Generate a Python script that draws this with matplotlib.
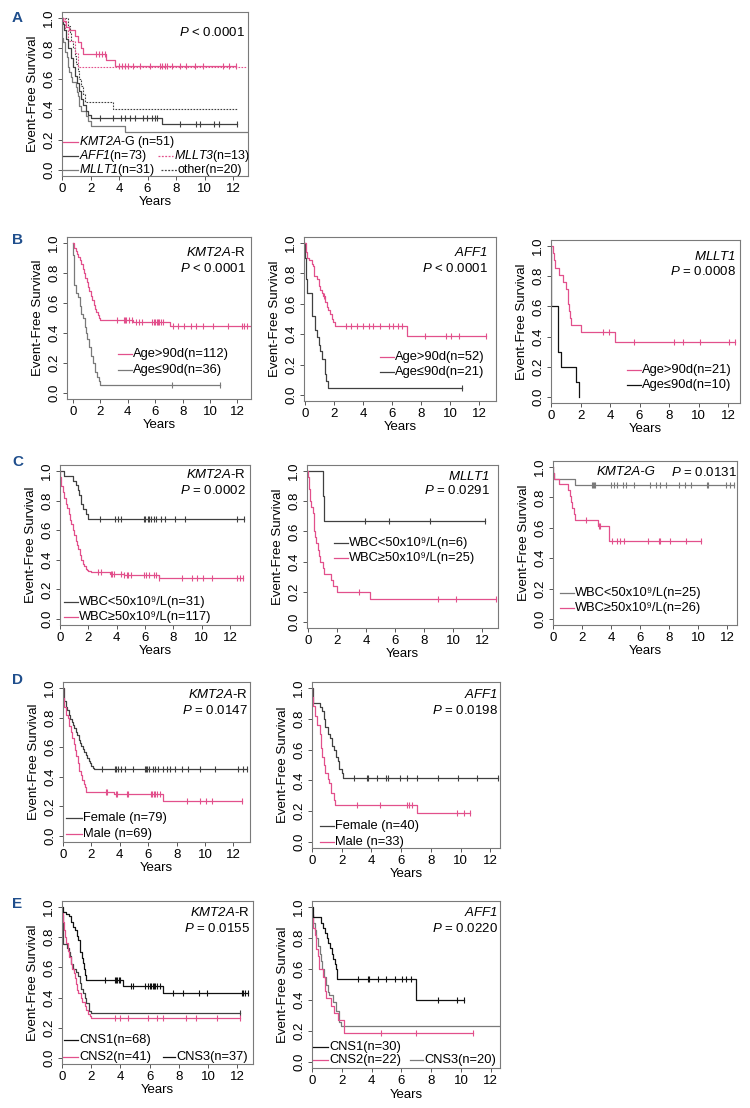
import numpy as np
import matplotlib
matplotlib.use("Agg")
import matplotlib.pyplot as plt
from matplotlib.lines import Line2D

plt.rcParams['font.family'] = ['Liberation Sans', 'DejaVu Sans']
plt.rcParams['mathtext.fontset'] = 'custom'
plt.rcParams['mathtext.rm'] = 'Liberation Sans:italic'
plt.rcParams['mathtext.it'] = 'Liberation Sans:italic'
plt.rcParams['mathtext.bf'] = 'Liberation Sans:bold'

# ---------------- data ----------------
# Panel A
a_kmt2ag_t = [0.1, 0.3, 0.5, 0.9, 1.1, 1.3, 1.5, 3.1, 3.7]
a_kmt2ag_s = [0.98, 0.94, 0.92, 0.88, 0.84, 0.80, 0.76, 0.725, 0.685]
a_kmt2ag_end = 12.2
a_kmt2ag_cens = [2.4, 2.6, 2.8, 3.0, 4.0, 4.2, 4.4, 4.6, 5.0, 5.5, 6.2, 6.9, 7.0, 7.2, 7.4, 7.7, 8.3, 8.7, 9.3, 9.9, 11.3, 11.7, 12.2]
a_aff1_t = [0.05, 0.15, 0.3, 0.45, 0.6, 0.75, 0.9, 1.05, 1.2, 1.35, 1.5, 1.65, 1.8, 2.0, 7.0]
a_aff1_s = [0.96, 0.92, 0.86, 0.80, 0.74, 0.68, 0.62, 0.57, 0.52, 0.47, 0.43, 0.39, 0.36, 0.34, 0.30]
a_aff1_end = 12.3
a_aff1_cens = [2.65, 3.6, 4.15, 4.4, 4.75, 5.1, 5.7, 5.95, 6.3, 6.5, 6.7, 8.3, 9.4, 9.65, 10.7, 11.05, 12.3]
a_mllt1_t = [0.02, 0.1, 0.2, 0.22, 0.35, 0.4, 0.45, 0.47, 0.6, 0.71, 0.98, 1.06, 1.1, 1.18, 1.22, 1.3, 1.65, 1.85, 2.0, 4.4]
a_mllt1_s = [0.871, 0.839, 0.806, 0.774, 0.742, 0.710, 0.677, 0.645, 0.613, 0.581, 0.548, 0.516, 0.484, 0.452, 0.419, 0.387, 0.355, 0.323, 0.290, 0.25]
a_mllt1_end = 13.0
a_mllt3_t = [0.2, 0.45, 0.9, 1.15]
a_mllt3_s = [0.923, 0.846, 0.769, 0.68]
a_mllt3_end = 13.0
a_other_t = [0.45, 0.55, 0.65, 0.75, 0.9, 1.0, 1.1, 1.2, 1.3, 1.45, 1.6, 3.6]
a_other_s = [0.95, 0.90, 0.85, 0.80, 0.75, 0.70, 0.65, 0.60, 0.55, 0.50, 0.45, 0.40]
a_other_end = 12.3

# Panel B1 (KMT2A-R, age)
b1_old_t = [0.1, 0.2, 0.3, 0.4, 0.5, 0.6, 0.7, 0.8, 0.9, 1.0, 1.1, 1.2, 1.3, 1.4, 1.5, 1.6, 1.7, 1.8, 1.9, 2.0, 4.4, 7.1]
b1_old_s = [0.97, 0.95, 0.93, 0.91, 0.89, 0.86, 0.83, 0.80, 0.77, 0.74, 0.71, 0.68, 0.65, 0.62, 0.59, 0.56, 0.54, 0.52, 0.50, 0.49, 0.475, 0.45]
b1_old_end = 12.9
b1_old_cens = [3.2, 3.7, 3.8, 3.9, 4.1, 4.3, 4.6, 4.8, 5.0, 5.8, 5.9, 6.0, 6.1, 6.2, 6.3, 6.4, 6.6, 7.3, 7.7, 8.1, 8.6, 9.0, 9.5, 10.2, 11.3, 12.3, 12.5, 12.7]
b1_young_t = [0.03, 0.05, 0.08, 0.2, 0.35, 0.5, 0.6, 0.7, 0.85, 0.95, 1.05, 1.15, 1.3, 1.45, 1.6, 1.75, 1.9, 2.0]
b1_young_s = [0.92, 0.83, 0.72, 0.67, 0.64, 0.58, 0.53, 0.50, 0.44, 0.40, 0.36, 0.31, 0.25, 0.20, 0.14, 0.11, 0.083, 0.056]
b1_young_end = 10.7
b1_young_cens = [7.2, 10.7]

# Panel B2 (AFF1, age)
b2_old_t = [0.05, 0.1, 0.15, 0.3, 0.45, 0.57, 0.65, 0.8, 0.95, 1.03, 1.15, 1.26, 1.4, 1.5, 1.6, 1.72, 1.85, 1.95, 2.1, 7.0]
b2_old_s = [0.98, 0.94, 0.90, 0.885, 0.865, 0.846, 0.78, 0.76, 0.72, 0.69, 0.67, 0.65, 0.61, 0.58, 0.56, 0.53, 0.50, 0.48, 0.455, 0.39]
b2_old_end = 12.5
b2_old_cens = [1.3, 2.8, 3.2, 3.6, 4.0, 4.4, 4.7, 5.2, 5.8, 6.1, 6.4, 6.7, 8.3, 9.7, 10.1, 10.6, 12.5]
b2_young_t = [0.02, 0.1, 0.15, 0.5, 0.7, 0.85, 0.95, 1.05, 1.15, 1.38, 1.45, 1.6]
b2_young_s = [0.90, 0.76, 0.67, 0.52, 0.43, 0.38, 0.33, 0.29, 0.24, 0.14, 0.095, 0.048]
b2_young_end = 10.8
b2_young_cens = [10.8]

# Panel B3 (MLLT1, age)
b3_old_t = [0.15, 0.2, 0.28, 0.55, 0.78, 1.05, 1.12, 1.17, 1.23, 1.28, 1.35, 2.0, 4.35]
b3_old_s = [0.952, 0.905, 0.857, 0.81, 0.762, 0.714, 0.667, 0.619, 0.571, 0.524, 0.476, 0.429, 0.367]
b3_old_end = 12.45
b3_old_cens = [3.55, 3.95, 5.6, 8.35, 8.95, 10.1, 12.05, 12.45]
b3_young_t = [0.0, 0.005, 0.01, 0.015, 0.45, 0.47, 0.49, 0.68, 1.7, 1.88]
b3_young_s = [0.9, 0.8, 0.7, 0.6, 0.5, 0.4, 0.3, 0.2, 0.1, 0.0]
b3_young_end = 1.88

# Panel C1 (KMT2A-R, WBC)
c1_low_t = [0.25, 0.95, 1.15, 1.3, 1.35, 1.45, 1.5, 1.65, 1.8, 1.95]
c1_low_s = [0.968, 0.935, 0.903, 0.871, 0.839, 0.806, 0.774, 0.742, 0.71, 0.677]
c1_low_end = 13.0
c1_low_cens = [2.8, 3.9, 4.1, 4.3, 5.9, 6.0, 6.2, 6.3, 6.4, 6.6, 6.8, 7.1, 7.4, 8.1, 8.8, 12.5, 13.0]
c1_high_t = [0.03, 0.1, 0.2, 0.3, 0.4, 0.5, 0.6, 0.7, 0.8, 0.9, 1.0, 1.1, 1.2, 1.3, 1.4, 1.5, 1.6, 1.7, 1.8, 1.9, 2.0, 2.2, 3.5, 4.5, 7.0]
c1_high_s = [0.96, 0.90, 0.86, 0.82, 0.78, 0.75, 0.71, 0.67, 0.64, 0.60, 0.57, 0.53, 0.50, 0.47, 0.43, 0.40, 0.37, 0.355, 0.34, 0.33, 0.325, 0.315, 0.305, 0.295, 0.275]
c1_high_end = 12.9
c1_high_cens = [2.7, 2.9, 3.6, 3.7, 3.8, 4.3, 4.5, 4.7, 4.8, 5.0, 5.9, 6.1, 6.3, 6.6, 6.8, 7.0, 8.6, 9.3, 9.7, 10.1, 10.7, 12.5, 12.7, 12.9]

# Panel C2 (MLLT1, WBC)
c2_low_t = [1.0, 1.1]
c2_low_s = [0.833, 0.667]
c2_low_end = 12.2
c2_low_cens = [3.9, 5.6, 8.4, 12.2]
c2_high_t = [0.03, 0.06, 0.08, 0.12, 0.15, 0.2, 0.34, 0.38, 0.41, 0.43, 0.46, 0.57, 0.69, 0.75, 0.85, 1.03, 1.1, 1.6, 1.72, 2.0, 4.25]
c2_high_s = [0.96, 0.92, 0.88, 0.84, 0.80, 0.76, 0.72, 0.68, 0.64, 0.60, 0.56, 0.52, 0.48, 0.44, 0.40, 0.36, 0.32, 0.28, 0.24, 0.20, 0.15]
c2_high_end = 13.0
c2_high_cens = [3.5, 9.0, 10.2, 13.0]

# Panel C3 (KMT2A-G, WBC)
c3_low_t = [0.02, 0.05, 1.5]
c3_low_s = [0.96, 0.92, 0.88]
c3_low_end = 12.5
c3_low_cens = [2.7, 2.75, 2.8, 2.9, 4.0, 4.2, 4.4, 4.8, 5.05, 5.6, 6.7, 7.1, 7.4, 7.8, 8.7, 9.1, 9.5, 10.6, 10.7, 11.95, 12.2, 12.5]
c3_high_t = [0.02, 0.05, 0.4, 1.03, 1.15, 1.22, 1.33, 1.43, 1.5, 3.1, 3.86]
c3_high_s = [0.962, 0.923, 0.885, 0.846, 0.808, 0.769, 0.731, 0.692, 0.654, 0.613, 0.51]
c3_high_end = 10.2
c3_high_cens = [2.25, 3.2, 3.25, 4.1, 4.4, 4.6, 4.9, 6.55, 7.3, 7.4, 8.05, 9.15, 10.2]

# Panel D1 (KMT2A-R, sex)
d1_f_t = [0.05, 0.1, 0.2, 0.3, 0.4, 0.5, 0.6, 0.7, 0.8, 0.9, 1.0, 1.1, 1.2, 1.3, 1.4, 1.5, 1.6, 1.7, 1.8, 1.9, 2.0, 2.1, 2.2]
d1_f_s = [0.96, 0.91, 0.87, 0.85, 0.82, 0.79, 0.77, 0.75, 0.73, 0.70, 0.68, 0.65, 0.63, 0.61, 0.59, 0.57, 0.55, 0.53, 0.51, 0.49, 0.47, 0.46, 0.455]
d1_f_end = 12.95
d1_f_cens = [2.75, 3.65, 3.75, 3.85, 4.05, 4.35, 4.95, 5.75, 5.85, 5.95, 6.05, 6.35, 6.45, 6.7, 7.05, 7.3, 7.5, 7.9, 8.35, 8.8, 9.65, 10.7, 12.35, 12.7, 12.95]
d1_m_t = [0.03, 0.1, 0.2, 0.35, 0.45, 0.55, 0.65, 0.75, 0.85, 0.95, 1.05, 1.15, 1.25, 1.35, 1.45, 1.55, 1.65, 3.6, 7.06]
d1_m_s = [0.93, 0.87, 0.82, 0.80, 0.74, 0.70, 0.66, 0.62, 0.58, 0.54, 0.49, 0.44, 0.41, 0.38, 0.35, 0.33, 0.30, 0.285, 0.235]
d1_m_end = 12.6
d1_m_cens = [3.06, 3.1, 3.7, 3.8, 4.5, 4.6, 6.2, 6.3, 6.4, 6.5, 6.6, 6.8, 8.7, 9.65, 10.1, 10.5, 12.6]

# Panel D2 (AFF1, sex)
d2_f_t = [0.05, 0.56, 0.7, 0.78, 0.9, 1.05, 1.2, 1.35, 1.45, 1.6, 1.73, 1.85, 2.0, 2.1]
d2_f_s = [0.90, 0.875, 0.85, 0.80, 0.75, 0.70, 0.675, 0.625, 0.60, 0.55, 0.525, 0.475, 0.45, 0.417]
d2_f_end = 12.55
d2_f_cens = [2.85, 3.7, 3.8, 4.4, 4.95, 5.1, 5.95, 6.4, 7.05, 8.5, 9.85, 11.1, 12.55]
d2_m_t = [0.02, 0.1, 0.2, 0.35, 0.52, 0.6, 0.7, 0.8, 0.9, 1.05, 1.17, 1.3, 1.45, 1.52, 7.06]
d2_m_s = [0.94, 0.88, 0.82, 0.76, 0.70, 0.61, 0.55, 0.50, 0.445, 0.41, 0.38, 0.315, 0.27, 0.24, 0.19]
d2_m_end = 10.65
d2_m_cens = [3.03, 4.55, 6.4, 6.5, 6.7, 9.75, 10.2, 10.65]

# Panel E1 (KMT2A-R, CNS)
e1_cns1_t = [0.1, 0.25, 0.45, 0.6, 0.75, 0.9, 1.0, 1.1, 1.2, 1.26, 1.35, 1.42, 1.49, 1.58, 1.67, 4.2, 6.92]
e1_cns1_s = [0.97, 0.955, 0.94, 0.90, 0.87, 0.85, 0.81, 0.78, 0.74, 0.70, 0.66, 0.63, 0.59, 0.55, 0.515, 0.478, 0.43]
e1_cns1_end = 12.75
e1_cns1_cens = [2.97, 3.6, 3.7, 3.8, 3.9, 4.0, 4.75, 4.85, 5.66, 5.9, 6.0, 6.1, 6.2, 6.3, 6.4, 6.5, 6.7, 7.6, 8.3, 9.4, 9.9, 12.3, 12.4, 12.5, 12.75]
e1_cns2_t = [0.02, 0.05, 0.08, 0.12, 0.2, 0.3, 0.4, 0.46, 0.6, 0.7, 0.8, 0.87, 0.95, 1.05, 1.1, 1.3, 1.4, 1.55, 1.65, 1.78, 1.9, 2.0]
e1_cns2_s = [0.976, 0.95, 0.90, 0.85, 0.80, 0.76, 0.71, 0.667, 0.62, 0.59, 0.56, 0.53, 0.49, 0.45, 0.43, 0.40, 0.37, 0.344, 0.32, 0.29, 0.275, 0.262]
e1_cns2_end = 12.2
e1_cns2_cens = [3.6, 3.95, 4.5, 5.9, 6.5, 6.9, 8.5, 9.2, 10.6, 12.2]
e1_cns3_t = [0.02, 0.04, 0.06, 0.35, 0.45, 0.52, 0.6, 0.75, 0.98, 1.1, 1.2, 1.3, 1.44, 1.55, 1.67, 1.83, 1.96]
e1_cns3_s = [0.946, 0.865, 0.757, 0.73, 0.70, 0.676, 0.62, 0.59, 0.567, 0.54, 0.50, 0.46, 0.433, 0.40, 0.367, 0.31, 0.297]
e1_cns3_end = 12.2
e1_cns3_cens = [12.2]

# Panel E2 (AFF1, CNS)
e2_cns1_t = [0.1, 0.6, 0.76, 0.9, 0.98, 1.1, 1.2, 1.35, 1.44, 1.55, 1.62, 1.7, 6.96]
e2_cns1_s = [0.933, 0.90, 0.867, 0.833, 0.80, 0.767, 0.733, 0.70, 0.667, 0.633, 0.60, 0.533, 0.40]
e2_cns1_end = 10.2
e2_cns1_cens = [3.1, 3.73, 3.84, 4.4, 4.96, 5.6, 6.07, 6.3, 6.63, 8.48, 9.7, 10.2]
e2_cns2_t = [0.02, 0.05, 0.1, 0.2, 0.3, 0.4, 0.5, 0.71, 0.85, 0.94, 1.27, 1.5, 1.72, 2.17]
e2_cns2_s = [0.955, 0.909, 0.864, 0.818, 0.727, 0.682, 0.60, 0.55, 0.455, 0.41, 0.364, 0.318, 0.273, 0.187]
e2_cns2_end = 10.8
e2_cns2_cens = [4.6, 6.96, 10.8]
e2_cns3_t = [0.02, 0.1, 0.2, 0.3, 0.4, 0.55, 0.62, 0.7, 0.83, 0.95, 1.05, 1.16, 1.38, 1.6, 1.83, 1.94]
e2_cns3_s = [0.95, 0.90, 0.85, 0.80, 0.75, 0.70, 0.65, 0.60, 0.55, 0.50, 0.45, 0.43, 0.39, 0.33, 0.26, 0.23]
e2_cns3_end = 13.0

x_ticks = [0, 2, 4, 6, 8, 10, 12]
y_ticks = [0.0, 0.2, 0.4, 0.6, 0.8, 1.0]

# ---------------- style ----------------
PINK = '#E2508C'
DARK = '#404040'
GRAY = '#7A7A7A'
BLACK = '#111111'
BLUE = '#1F4E8C'
FS = 9.5
LFS = 9.3

W, H = 750, 1108
fig = plt.figure(figsize=(W / 100, H / 100), dpi=100)


def it(s):
    # italic via mathtext (rm font is set to italic Liberation Sans)
    return r'$\mathrm{' + s + '}$'


def make_axes(left, right, y1, y0, x0, ppy, pad=0.04):
    span = y0 - y1
    top = y1 - pad * span
    bottom = y0 + pad * span
    ax = fig.add_axes([left / W, 1 - bottom / H, (right - left) / W, (bottom - top) / H])
    ax.set_xlim((left - x0) / ppy, (right - x0) / ppy)
    ax.set_ylim(-pad, 1 + pad)
    ax.set_xticks(x_ticks)
    ax.set_yticks(y_ticks)
    ax.set_yticklabels(['%.1f' % v for v in y_ticks])
    ax.tick_params(direction='out', length=3, width=0.7, color='#555555', labelsize=FS, pad=2)
    for lab in ax.get_yticklabels():
        lab.set_rotation(90)
        lab.set_va('center')
    for sp in ax.spines.values():
        sp.set_color('#7A7A7A')
        sp.set_linewidth(0.8)
    ax.set_ylabel('Event-Free Survival', fontsize=FS, labelpad=3)
    ax.set_xlabel('Years', fontsize=FS, labelpad=1)
    return ax


def km(ax, t, s, end, color, cens=None, ls='-', lw=0.9):
    t = np.asarray(t, float)
    s = np.asarray(s, float)
    x = np.r_[0.0, t, end]
    y = np.r_[1.0, s, s[-1]]
    ax.step(x, y, where='post', color=color, ls=ls, lw=lw, clip_on=True)
    if cens:
        idx = np.searchsorted(t, cens, side='right')
        cy = np.r_[1.0, s][idx]
        ax.plot(cens, cy, ls='none', marker='|', ms=5, mew=0.8, color=color)


def leg(xp, yp, label, color, ls='-', seg=14, fs=LFS):
    fy = 1 - yp / H
    fig.add_artist(Line2D([xp / W, (xp + seg) / W], [fy, fy], color=color, ls=ls, lw=0.9))
    fig.text((xp + seg + 1) / W, fy, label, va='center', ha='left', fontsize=fs)


def note(xp, yp, label, ha='right', style='normal'):
    fig.text(xp / W, 1 - yp / H, label, va='center', ha=ha, fontsize=FS, fontstyle=style)


def letter(xp, yp, label):
    fig.text(xp / W, 1 - yp / H, label, va='center', ha='left', fontsize=11,
             fontweight='bold', color=BLUE)


PLT = it('P') + ' < 0.0001'
SUP9 = '\u2079'

# ---------------- Panel A ----------------
ax = make_axes(62, 248, 18, 170, 62, 14.25)
km(ax, a_other_t, a_other_s, a_other_end, DARK, ls=(0, (1.5, 1.2)), lw=0.8)
km(ax, a_mllt3_t, a_mllt3_s, a_mllt3_end, PINK, ls=(0, (1.5, 1.2)), lw=0.8)
km(ax, a_mllt1_t, a_mllt1_s, a_mllt1_end, GRAY)
km(ax, a_aff1_t, a_aff1_s, a_aff1_end, DARK, a_aff1_cens)
km(ax, a_kmt2ag_t, a_kmt2ag_s, a_kmt2ag_end, PINK, a_kmt2ag_cens)
letter(12, 18, 'A')
note(245, 33, PLT)
AFS = 8.9
leg(63, 142, it('KMT2A') + '-G (n=51)', PINK, seg=15, fs=AFS)
leg(63, 156, it('AFF1') + '(n=73)', DARK, seg=15, fs=AFS)
leg(158, 156, it('MLLT3') + '(n=13)', PINK, ls=(0, (1.5, 1.2)), seg=15, fs=AFS)
leg(63, 170, it('MLLT1') + '(n=31)', GRAY, seg=15, fs=AFS)
leg(161, 170, 'other(n=20)', DARK, ls=(0, (1.5, 1.2)), seg=16, fs=AFS)

# ---------------- Panel B ----------------
ax = make_axes(67, 251, 243, 393, 73, 13.7)
km(ax, b1_young_t, b1_young_s, b1_young_end, GRAY, b1_young_cens)
km(ax, b1_old_t, b1_old_s, b1_old_end, PINK, b1_old_cens)
letter(12, 240, 'B')
note(246, 253, it('KMT2A') + '-R')
note(246, 268, PLT)
leg(118, 354, 'Age>90d(n=112)', PINK)
leg(118, 370, 'Age≤90d(n=36)', GRAY)

ax = make_axes(304, 496, 243, 395, 305, 14.5)
km(ax, b2_young_t, b2_young_s, b2_young_end, DARK, b2_young_cens)
km(ax, b2_old_t, b2_old_s, b2_old_end, PINK, b2_old_cens)
note(488, 253, it('AFF1'))
note(488, 268, PLT)
leg(380, 357, 'Age>90d(n=52)', PINK)
leg(380, 372, 'Age≤90d(n=21)', DARK)

ax = make_axes(551, 740, 246, 397, 551, 14.75)
km(ax, b3_young_t, b3_young_s, b3_young_end, BLACK)
km(ax, b3_old_t, b3_old_s, b3_old_end, PINK, b3_old_cens)
note(736, 256, it('MLLT1'))
note(736, 272, it('P') + ' = 0.0008')
leg(627, 370, 'Age>90d(n=21)', PINK)
leg(627, 385, 'Age≤90d(n=10)', BLACK)

# ---------------- Panel C ----------------
ax = make_axes(60, 250, 471, 619, 60, 14.17)
km(ax, c1_low_t, c1_low_s, c1_low_end, DARK, c1_low_cens)
km(ax, c1_high_t, c1_high_s, c1_high_end, PINK, c1_high_cens)
letter(12, 462, 'C')
note(246, 475, it('KMT2A') + '-R')
note(246, 490, it('P') + ' = 0.0002')
leg(64, 602, 'WBC<50x10' + SUP9 + '/L(n=31)', DARK)
leg(64, 617, 'WBC≥50x10' + SUP9 + '/L(n=117)', PINK)

ax = make_axes(307, 498, 471, 622, 308, 14.5)
km(ax, c2_low_t, c2_low_s, c2_low_end, DARK, c2_low_cens)
km(ax, c2_high_t, c2_high_s, c2_high_end, PINK, c2_high_cens)
note(490, 476, it('MLLT1'))
note(490, 490, it('P') + ' = 0.0291')
leg(334, 543, 'WBC<50x10' + SUP9 + '/L(n=6)', DARK)
leg(334, 558, 'WBC≥50x10' + SUP9 + '/L(n=25)', PINK)

ax = make_axes(553, 737, 467, 619, 553, 14.5)
km(ax, c3_low_t, c3_low_s, c3_low_end, GRAY, c3_low_cens)
km(ax, c3_high_t, c3_high_s, c3_high_end, PINK, c3_high_cens)
note(626, 472, 'KMT2A-G', ha='center', style='italic')
note(737, 472, it('P') + ' = 0.0131')
leg(560, 593, 'WBC<50x10' + SUP9 + '/L(n=25)', GRAY)
leg(560, 608, 'WBC≥50x10' + SUP9 + '/L(n=26)', PINK)

# ---------------- Panel D ----------------
ax = make_axes(63, 250, 688, 836, 63, 14.2)
km(ax, d1_f_t, d1_f_s, d1_f_end, DARK, d1_f_cens)
km(ax, d1_m_t, d1_m_s, d1_m_end, PINK, d1_m_cens)
letter(12, 680, 'D')
note(248, 695, it('KMT2A') + '-R')
note(248, 710, it('P') + ' = 0.0147')
leg(66, 818, 'Female (n=79)', DARK, seg=16)
leg(66, 834, 'Male (n=69)', PINK, seg=16)

ax = make_axes(312, 500, 688, 842, 312, 14.86)
km(ax, d2_f_t, d2_f_s, d2_f_end, DARK, d2_f_cens)
km(ax, d2_m_t, d2_m_s, d2_m_end, PINK, d2_m_cens)
note(498, 695, it('AFF1'))
note(498, 710, it('P') + ' = 0.0198')
leg(320, 826, 'Female (n=40)', DARK)
leg(320, 842, 'Male (n=33)', PINK)

# ---------------- Panel E ----------------
ax = make_axes(62, 253, 907, 1058, 62, 14.6)
km(ax, e1_cns3_t, e1_cns3_s, e1_cns3_end, DARK, e1_cns3_cens)
km(ax, e1_cns2_t, e1_cns2_s, e1_cns2_end, PINK, e1_cns2_cens)
km(ax, e1_cns1_t, e1_cns1_s, e1_cns1_end, BLACK, e1_cns1_cens)
letter(12, 904, 'E')
note(250, 913, it('KMT2A') + '-R')
note(250, 928, it('P') + ' = 0.0155')
leg(64, 1040, 'CNS1(n=68)', BLACK)
leg(63, 1057, 'CNS2(n=41)', PINK, seg=15)
leg(163, 1057, 'CNS3(n=37)', BLACK, seg=12)

ax = make_axes(312, 500, 907, 1062, 312, 14.9)
km(ax, e2_cns3_t, e2_cns3_s, e2_cns3_end, GRAY)
km(ax, e2_cns2_t, e2_cns2_s, e2_cns2_end, PINK, e2_cns2_cens)
km(ax, e2_cns1_t, e2_cns1_s, e2_cns1_end, BLACK, e2_cns1_cens)
note(498, 913, it('AFF1'))
note(498, 928, it('P') + ' = 0.0220')
leg(313, 1047, 'CNS1(n=30)', BLACK, seg=15)
leg(313, 1060, 'CNS2(n=22)', PINK, seg=15)
leg(410, 1060, 'CNS3(n=20)', GRAY, seg=13)

fig.savefig('out.png', dpi=100, facecolor='white')
